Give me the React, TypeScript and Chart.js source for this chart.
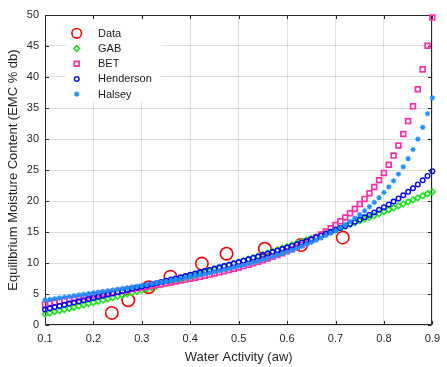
import React, { useEffect, useRef } from 'react';
import { Chart, registerables } from 'chart.js';
import * as helpers from 'chart.js/helpers';

Chart.register(...registerables);

// Water activity grid for the fitted model curves
const awGrid = [
  0.10, 0.11, 0.12, 0.13, 0.14, 0.15, 0.16, 0.17, 0.18, 0.19,
  0.20, 0.21, 0.22, 0.23, 0.24, 0.25, 0.26, 0.27, 0.28, 0.29,
  0.30, 0.31, 0.32, 0.33, 0.34, 0.35, 0.36, 0.37, 0.38, 0.39,
  0.40, 0.41, 0.42, 0.43, 0.44, 0.45, 0.46, 0.47, 0.48, 0.49,
  0.50, 0.51, 0.52, 0.53, 0.54, 0.55, 0.56, 0.57, 0.58, 0.59,
  0.60, 0.61, 0.62, 0.63, 0.64, 0.65, 0.66, 0.67, 0.68, 0.69,
  0.70, 0.71, 0.72, 0.73, 0.74, 0.75, 0.76, 0.77, 0.78, 0.79,
  0.80, 0.81, 0.82, 0.83, 0.84, 0.85, 0.86, 0.87, 0.88, 0.89,
  0.90,
];

const gabEmc = [
  1.76, 1.94, 2.12, 2.31, 2.49, 2.68, 2.87, 3.06, 3.25, 3.44,
  3.63, 3.83, 4.03, 4.22, 4.42, 4.62, 4.82, 5.03, 5.23, 5.44,
  5.64, 5.85, 6.06, 6.28, 6.49, 6.70, 6.92, 7.14, 7.36, 7.58,
  7.80, 8.03, 8.25, 8.48, 8.71, 8.94, 9.17, 9.41, 9.65, 9.88,
  10.12, 10.37, 10.61, 10.86, 11.10, 11.35, 11.61, 11.86, 12.11, 12.37,
  12.63, 12.89, 13.16, 13.42, 13.69, 13.96, 14.23, 14.51, 14.78, 15.06,
  15.34, 15.63, 15.91, 16.20, 16.49, 16.79, 17.08, 17.38, 17.68, 17.98,
  18.29, 18.60, 18.91, 19.22, 19.54, 19.86, 20.18, 20.51, 20.84, 21.17,
  21.50,
];

const betEmc = [
  3.28, 3.46, 3.63, 3.79, 3.95, 4.10, 4.24, 4.38, 4.52, 4.65,
  4.78, 4.91, 5.04, 5.16, 5.29, 5.42, 5.54, 5.67, 5.80, 5.93,
  6.06, 6.19, 6.32, 6.46, 6.59, 6.73, 6.87, 7.02, 7.17, 7.32,
  7.47, 7.63, 7.79, 7.96, 8.13, 8.31, 8.49, 8.68, 8.88, 9.08,
  9.29, 9.50, 9.73, 9.96, 10.20, 10.45, 10.72, 10.99, 11.28, 11.58,
  11.89, 12.22, 12.57, 12.93, 13.31, 13.72, 14.15, 14.60, 15.08, 15.59,
  16.14, 16.72, 17.34, 18.01, 18.73, 19.50, 20.34, 21.25, 22.25, 23.33,
  24.53, 25.85, 27.32, 28.96, 30.80, 32.89, 35.27, 38.02, 41.23, 45.03,
  49.58,
];

const hendersonEmc = [
  2.50, 2.70, 2.89, 3.08, 3.27, 3.45, 3.64, 3.82, 4.00, 4.19,
  4.37, 4.55, 4.73, 4.92, 5.10, 5.28, 5.46, 5.64, 5.83, 6.01,
  6.19, 6.38, 6.57, 6.75, 6.94, 7.13, 7.32, 7.51, 7.70, 7.90,
  8.09, 8.29, 8.49, 8.69, 8.89, 9.10, 9.30, 9.51, 9.72, 9.94,
  10.15, 10.37, 10.60, 10.82, 11.05, 11.28, 11.52, 11.76, 12.00, 12.25,
  12.50, 12.75, 13.01, 13.28, 13.55, 13.83, 14.11, 14.40, 14.70, 15.00,
  15.31, 15.63, 15.96, 16.30, 16.65, 17.01, 17.38, 17.76, 18.16, 18.57,
  19.00, 19.45, 19.92, 20.41, 20.93, 21.48, 22.06, 22.67, 23.33, 24.04,
  24.81,
];

const halseyEmc = [
  4.00, 4.12, 4.24, 4.36, 4.48, 4.60, 4.71, 4.83, 4.94, 5.06,
  5.17, 5.29, 5.41, 5.52, 5.64, 5.76, 5.88, 6.00, 6.12, 6.25,
  6.37, 6.50, 6.63, 6.76, 6.89, 7.03, 7.17, 7.31, 7.45, 7.60,
  7.75, 7.91, 8.06, 8.22, 8.39, 8.56, 8.73, 8.91, 9.09, 9.28,
  9.47, 9.67, 9.88, 10.09, 10.31, 10.53, 10.77, 11.01, 11.26, 11.52,
  11.79, 12.07, 12.37, 12.67, 12.99, 13.33, 13.68, 14.04, 14.43, 14.83,
  15.26, 15.71, 16.19, 16.70, 17.24, 17.81, 18.42, 19.08, 19.79, 20.55,
  21.37, 22.27, 23.25, 24.33, 25.51, 26.84, 28.31, 29.98, 31.88, 34.07,
  36.63,
];

// Measured data
const dataAw = [0.238, 0.272, 0.314, 0.359, 0.424, 0.475, 0.554, 0.629, 0.715];
const dataEmc = [1.95, 4.0, 6.1, 7.8, 9.9, 11.5, 12.3, 12.9, 14.1];

const seriesLabels = ['Data', 'GAB', 'BET', 'Henderson', 'Halsey'];
const xTickValues = [0.1, 0.2, 0.3, 0.4, 0.5, 0.6, 0.7, 0.8, 0.9];
const yTickValues = [0, 5, 10, 15, 20, 25, 30, 35, 40, 45, 50];

const toPts = (xs: number[], ys: number[]) => xs.map((x, i) => ({ x, y: ys[i] }));

export default function App() {
  const ref = useRef<HTMLCanvasElement>(null);

  useEffect(() => {
    document.body.style.margin = '0';
    const canvas = ref.current;
    if (!canvas) return;
    const family = '"Liberation Sans", Arial, Helvetica, sans-serif';
    const axisColor = '#262626';
    const gridColor = 'rgba(0,0,0,0.13)';

    const boxPlugin = {
      id: 'matlabBox',
      beforeDatasetsDraw(chart: any) {
        const { ctx, chartArea: a, scales } = chart;
        ctx.save();
        ctx.strokeStyle = axisColor;
        ctx.lineWidth = 1;
        const l = Math.round(a.left) + 0.5;
        const r = Math.round(a.right) - 0.5;
        const t = Math.round(a.top) + 0.5;
        const b = Math.round(a.bottom) - 0.5;
        ctx.beginPath();
        ctx.moveTo(l, t);
        ctx.lineTo(r, t);
        ctx.lineTo(r, b);
        ctx.moveTo(l, t);
        ctx.lineTo(l, b);
        ctx.lineTo(r, b);
        const tl = 3.5;
        scales.x.ticks.forEach((tk: any) => {
          const px = Math.round(scales.x.getPixelForValue(tk.value)) + 0.5;
          ctx.moveTo(px, b);
          ctx.lineTo(px, b - tl);
          ctx.moveTo(px, t);
          ctx.lineTo(px, t + tl);
        });
        scales.y.ticks.forEach((tk: any) => {
          const py = Math.round(scales.y.getPixelForValue(tk.value)) + 0.5;
          ctx.moveTo(l, py);
          ctx.lineTo(l + tl, py);
          ctx.moveTo(r, py);
          ctx.lineTo(r - tl, py);
        });
        ctx.stroke();
        ctx.restore();
      },
    };

    const legendPlugin = {
      id: 'insideLegend',
      afterDraw(chart: any) {
        const { ctx, chartArea: a } = chart;
        ctx.save();
        ctx.fillStyle = '#ffffff';
        ctx.fillRect(a.left + 21, a.top + 4, 95, 83);
        chart.data.datasets.forEach((ds: any, i: number) => {
          const y = a.top + 18.3 + i * 15.2;
          const x = a.left + 31.7;
          ctx.strokeStyle = ds.borderColor;
          ctx.fillStyle = 'rgba(0,0,0,0)';
          ctx.lineWidth = ds.borderWidth;
          helpers.drawPoint(
            ctx,
            {
              pointStyle: ds.pointStyle,
              radius: i === 0 ? 4.8 : ds.pointRadius,
              borderWidth: ds.borderWidth,
              rotation: 0,
            } as any,
            x,
            y
          );
          ctx.fillStyle = '#1a1a1a';
          ctx.font = `11px ${family}`;
          ctx.textBaseline = 'middle';
          ctx.textAlign = 'left';
          ctx.fillText(ds.label, a.left + 53, y + 0.5);
        });
        ctx.restore();
      },
    };

    const common = { showLine: false, clip: false as any, backgroundColor: 'rgba(0,0,0,0)' };

    const chart = new Chart(canvas, {
      type: 'scatter',
      data: {
        datasets: [
          {
            ...common,
            label: seriesLabels[0],
            data: toPts(dataAw, dataEmc),
            pointStyle: 'circle',
            pointRadius: 6.2,
            borderColor: '#ff0000',
            borderWidth: 1.6,
            order: 5,
          },
          {
            ...common,
            label: seriesLabels[1],
            data: toPts(awGrid, gabEmc),
            pointStyle: 'rectRot',
            pointRadius: 2.9,
            borderColor: '#14e614',
            borderWidth: 1.5,
            order: 4,
          },
          {
            ...common,
            label: seriesLabels[2],
            data: toPts(awGrid, betEmc),
            pointStyle: 'rect',
            pointRadius: 3.4,
            borderColor: '#ff2ea6',
            borderWidth: 1.7,
            order: 3,
          },
          {
            ...common,
            label: seriesLabels[3],
            data: toPts(awGrid, hendersonEmc),
            pointStyle: 'circle',
            pointRadius: 2.3,
            borderColor: '#0000ff',
            borderWidth: 1.4,
            order: 2,
          },
          {
            ...common,
            label: seriesLabels[4],
            data: toPts(awGrid, halseyEmc),
            pointStyle: 'star',
            pointRadius: 2.7,
            borderColor: '#1e90ff',
            borderWidth: 1.2,
            order: 1,
          },
        ] as any,
      },
      options: {
        responsive: false,
        animation: false,
        events: [],
        devicePixelRatio: 1,
        layout: { padding: { top: 15, right: 8, left: 0, bottom: 0 } },
        plugins: {
          legend: { display: false },
          tooltip: { enabled: false },
        },
        scales: {
          x: {
            type: 'linear',
            min: 0.1,
            max: 0.9,
            afterBuildTicks: (s: any) => {
              s.ticks = xTickValues.map((v) => ({ value: v }));
            },
            afterFit: (s: any) => {
              s.height = 42;
            },
            grid: { color: gridColor, drawTicks: false, lineWidth: 1 },
            border: { display: false },
            ticks: {
              padding: 7,
              color: axisColor,
              font: { family, size: 11 },
              maxRotation: 0,
              callback: (v: any) => Number(v).toFixed(1),
            },
            title: {
              display: true,
              text: 'Water Activity (aw)',
              color: axisColor,
              font: { family, size: 13 },
              padding: { top: 0, bottom: 2 },
            },
          },
          y: {
            type: 'linear',
            min: 0,
            max: 50,
            afterBuildTicks: (s: any) => {
              s.ticks = yTickValues.map((v) => ({ value: v }));
            },
            afterFit: (s: any) => {
              s.width = 45;
            },
            grid: { color: gridColor, drawTicks: false, lineWidth: 1 },
            border: { display: false },
            ticks: {
              padding: 6,
              color: axisColor,
              font: { family, size: 11 },
            },
            title: {
              display: true,
              text: 'Equilibrium Moisture Content (EMC % db)',
              color: axisColor,
              font: { family, size: 13 },
              padding: { top: 6, bottom: 0 },
            },
          },
        },
      } as any,
      plugins: [boxPlugin, legendPlugin],
    });

    return () => chart.destroy();
  }, []);

  return (
    <canvas
      ref={ref}
      width={447}
      height={367}
      style={{ display: 'block', width: '447px', height: '367px' }}
    />
  );
}
